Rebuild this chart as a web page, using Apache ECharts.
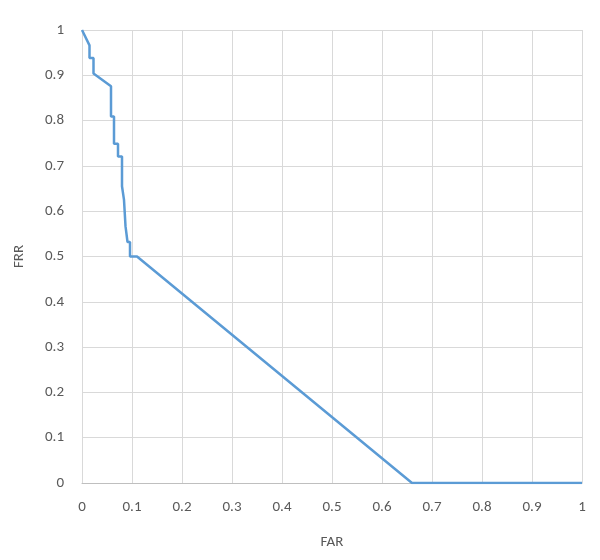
<!DOCTYPE html>
<html><head><meta charset="utf-8">
<script src="https://cdn.jsdelivr.net/npm/echarts@6/dist/echarts.min.js"></script>
<style>html,body{margin:0;padding:0;background:#fff}#c{width:600px;height:560px}</style>
</head><body><div id="c"></div>
<script>
const farValues = [0, 0.015, 0.015, 0.023, 0.023, 0.058, 0.058, 0.064, 0.064, 0.072, 0.072, 0.080, 0.080, 0.084, 0.084, 0.087, 0.087, 0.091, 0.091, 0.096, 0.096, 0.110, 0.660, 1.0];
const frrValues = [1, 0.966, 0.938, 0.938, 0.904, 0.876, 0.809, 0.809, 0.749, 0.749, 0.721, 0.721, 0.655, 0.655, 0.625, 0.625, 0.567, 0.567, 0.532, 0.532, 0.5, 0.5, 0, 0];
const xTicks = [0,0.1,0.2,0.3,0.4,0.5,0.6,0.7,0.8,0.9,1];
const yTicks = [0,0.1,0.2,0.3,0.4,0.5,0.6,0.7,0.8,0.9,1];
const xName = 'FAR', yName = 'FRR';

const chart = echarts.init(document.getElementById('c'));
const font = 'Calibri, Carlito, "Open Sans", "Liberation Sans", sans-serif';
chart.setOption({
  animation: false,
  grid: {left: 82, right: 18, top: 30, bottom: 77},
  xAxis: {
    type: 'value', min: 0, max: 1, interval: 0.1,
    name: xName, nameLocation: 'middle', nameGap: 52,
    nameTextStyle: {color: '#595959', fontSize: 15, fontFamily: font},
    axisLine: {show: true, lineStyle: {color: '#bfbfbf', width: 1}},
    axisTick: {show: false},
    axisLabel: {color: '#595959', fontSize: 15, fontFamily: font, margin: 17,
      formatter: v => String(xTicks.find(t => Math.abs(t - v) < 1e-9) ?? v)},
    splitLine: {show: true, lineStyle: {color: '#d9d9d9', width: 1}}
  },
  yAxis: {
    type: 'value', min: 0, max: 1, interval: 0.1,
    name: yName, nameLocation: 'middle', nameGap: 55, nameRotate: 90,
    nameTextStyle: {color: '#595959', fontSize: 15, fontFamily: font},
    axisLine: {show: false},
    axisTick: {show: false},
    axisLabel: {color: '#595959', fontSize: 15, fontFamily: font, margin: 18,
      formatter: v => String(yTicks.find(t => Math.abs(t - v) < 1e-9) ?? v)},
    splitLine: {show: true, lineStyle: {color: '#d9d9d9', width: 1}}
  },
  series: [{
    type: 'line', showSymbol: false, symbol: 'none',
    data: farValues.map((x, i) => [x, frrValues[i]]),
    lineStyle: {color: '#5b9bd5', width: 2.5},
    itemStyle: {color: '#5b9bd5'}
  }]
});
</script></body></html>
